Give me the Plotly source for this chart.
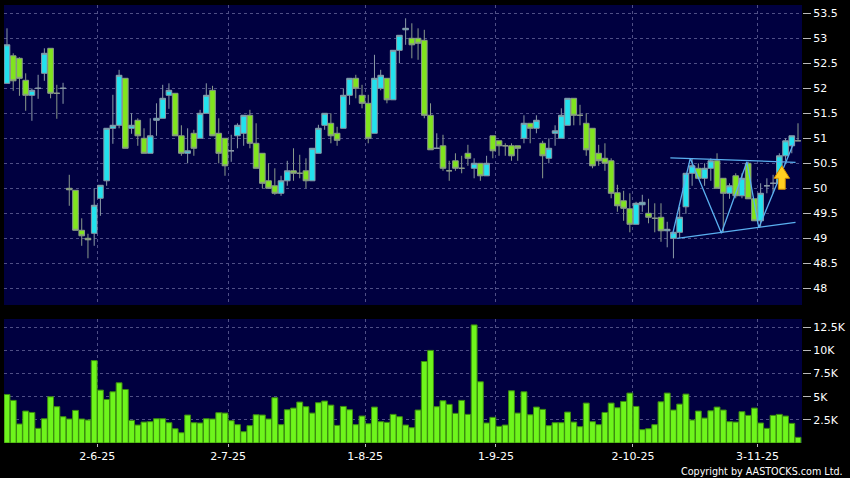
import plotly.graph_objects as go

# ---------------- data ----------------
idx = list(range(128))

open_ = [52.10, 52.65, 52.60, 52.16, 51.86, 52.00, 52.30, 52.80, 51.90, 52.00,
         50.00, 49.96, 49.16, 49.00, 49.10, 49.80, 50.15, 51.20, 51.26, 52.20,
         51.20, 51.36, 51.00, 50.70, 51.36, 51.40, 51.86, 51.90, 51.05, 50.70,
         51.10, 51.00, 51.50, 51.96, 51.10, 51.00, 50.75, 51.05, 51.10, 51.46,
         50.90, 50.70, 50.15, 50.05, 49.90, 50.15, 50.35, 50.30, 50.35, 50.15,
         50.70, 51.26, 51.30, 51.10, 51.20, 51.86, 52.20, 51.86, 51.70, 51.10,
         52.00, 52.20, 51.77, 52.76, 53.17, 53.00, 53.00, 52.96, 51.46, 50.80,
         50.85, 50.35, 50.55, 50.40, 50.70, 50.40, 50.50, 50.25, 51.05, 50.95,
         50.85, 50.85, 50.85, 51.00, 51.30, 51.20, 50.90, 50.60, 51.10, 51.00,
         51.26, 51.80, 51.46, 51.30, 51.20, 50.70, 50.60, 50.55, 49.91, 49.75,
         49.59, 49.28, 49.67, 49.50, 49.40, 49.42, 49.15, 49.00, 49.12, 49.63,
         50.30, 50.40, 50.20, 50.40, 50.55, 50.20, 49.90, 50.25, 49.85, 50.50,
         49.79, 49.35, 50.05, 50.10, 50.10, 50.65, 50.85, 50.95]

high = [53.20, 52.70, 52.62, 52.30, 52.00, 52.27, 52.80, 52.80, 52.07, 52.11,
        50.27, 49.96, 49.40, 49.09, 50.00, 50.06, 51.20, 51.87, 52.37, 52.20,
        51.50, 51.40, 51.20, 51.40, 51.70, 52.07, 52.10, 51.90, 51.26, 51.20,
        51.17, 51.57, 52.10, 52.05, 51.40, 51.00, 51.07, 51.30, 51.46, 51.57,
        51.30, 50.70, 50.50, 50.40, 50.25, 50.55, 50.80, 50.67, 50.60, 50.80,
        51.27, 51.50, 51.50, 51.23, 52.00, 52.20, 52.27, 52.07, 51.87, 52.67,
        52.37, 52.20, 52.76, 53.06, 53.40, 53.30, 53.20, 53.17, 51.70, 51.10,
        51.07, 50.55, 50.70, 50.65, 50.87, 50.60, 50.50, 50.65, 51.05, 50.95,
        50.90, 50.90, 50.85, 51.46, 51.30, 51.46, 50.95, 51.00, 51.26, 51.60,
        51.80, 51.80, 51.67, 51.50, 51.20, 50.87, 50.90, 50.60, 50.07, 49.95,
        49.90, 49.73, 49.87, 49.79, 49.70, 49.70, 49.33, 49.12, 49.63, 50.30,
        50.60, 50.50, 50.50, 50.60, 50.70, 50.20, 50.10, 50.30, 50.30, 50.53,
        49.79, 50.10, 50.20, 50.27, 50.70, 51.00, 51.05, 51.30]

low = [52.10, 51.95, 51.85, 51.55, 51.35, 51.79, 52.15, 51.80, 51.39, 51.69,
       49.65, 49.16, 48.85, 48.60, 48.85, 49.45, 50.05, 50.89, 51.20, 50.80,
       51.09, 50.85, 50.70, 50.70, 51.05, 51.40, 51.59, 51.05, 50.65, 50.50,
       50.65, 51.00, 51.50, 51.05, 50.50, 50.25, 50.53, 50.80, 50.85, 50.80,
       50.40, 50.00, 50.00, 49.87, 49.85, 50.05, 50.15, 50.20, 50.00, 50.15,
       50.70, 51.17, 50.90, 50.85, 51.20, 51.67, 51.80, 51.60, 50.90, 51.10,
       51.96, 51.70, 51.77, 52.50, 52.87, 52.60, 52.57, 51.40, 50.77, 50.80,
       50.35, 50.15, 50.35, 50.30, 50.45, 50.20, 50.15, 50.25, 50.60, 50.65,
       50.65, 50.55, 50.55, 50.90, 50.90, 51.10, 50.20, 50.50, 50.85, 51.00,
       51.26, 51.26, 51.26, 50.65, 50.40, 50.45, 50.35, 49.80, 49.53, 49.35,
       49.12, 49.28, 49.53, 49.30, 49.12, 48.93, 48.82, 48.60, 49.00, 49.49,
       50.05, 50.20, 50.05, 50.15, 50.00, 49.12, 49.79, 49.80, 49.80, 49.79,
       49.35, 49.23, 49.90, 49.90, 50.10, 50.55, 50.70, 50.95]

close = [52.87, 52.15, 52.20, 51.86, 51.96, 52.00, 52.70, 51.90, 51.90, 52.00,
         49.97, 49.16, 49.05, 48.97, 49.66, 50.06, 51.20, 51.26, 52.26, 50.80,
         51.26, 51.05, 50.70, 51.05, 51.40, 51.80, 51.96, 51.05, 50.70, 50.75,
         50.80, 51.50, 51.86, 51.05, 50.70, 50.45, 50.75, 51.26, 51.46, 50.90,
         50.40, 50.10, 50.00, 49.90, 50.15, 50.35, 50.30, 50.30, 50.15, 50.80,
         51.20, 51.50, 51.05, 50.96, 51.86, 52.20, 52.00, 51.70, 51.00, 52.20,
         52.26, 51.77, 52.76, 53.06, 53.20, 52.87, 52.90, 51.46, 50.77, 50.80,
         50.40, 50.35, 50.40, 50.40, 50.60, 50.50, 50.25, 50.50, 50.75, 50.85,
         50.85, 50.65, 50.80, 51.30, 51.20, 51.36, 50.65, 50.80, 51.15, 51.46,
         51.80, 51.46, 51.46, 50.77, 50.45, 50.55, 50.50, 49.90, 49.65, 49.60,
         49.28, 49.70, 49.72, 49.42, 49.40, 49.15, 49.18, 49.12, 49.42, 50.30,
         50.45, 50.20, 50.40, 50.55, 50.00, 49.90, 50.05, 49.85, 50.20, 49.79,
         49.35, 49.90, 50.05, 50.10, 50.65, 50.95, 51.05, 50.95]

vol_k = [5.24, 4.60, 2.05, 3.45, 3.30, 1.58, 2.62, 4.99, 3.92, 2.84,
         2.59, 3.52, 2.59, 2.48, 8.90, 5.71, 4.70, 5.53, 6.50, 5.78,
         2.44, 1.94, 2.26, 2.30, 2.62, 2.62, 2.19, 1.54, 1.11, 3.02,
         2.19, 2.16, 2.62, 2.59, 3.27, 3.23, 2.41, 1.98, 1.22, 1.87,
         3.05, 3.02, 2.59, 4.89, 1.98, 3.59, 3.77, 4.42, 3.92, 3.23,
         4.35, 4.53, 4.09, 1.90, 3.95, 3.59, 1.98, 2.91, 2.08, 3.88,
         2.30, 2.23, 3.09, 2.84, 1.94, 1.65, 3.56, 8.80, 10.00, 3.92,
         4.56, 4.17, 3.20, 4.60, 3.09, 12.75, 6.61, 2.16, 2.77, 1.80,
         1.94, 5.64, 3.23, 5.53, 3.05, 3.88, 3.63, 1.87, 2.19, 2.19,
         3.34, 2.26, 1.76, 4.31, 2.30, 1.98, 3.30, 4.31, 3.81, 4.49,
         5.39, 3.95, 1.44, 1.54, 1.98, 4.45, 5.39, 3.56, 4.20, 5.28,
         2.48, 3.45, 2.69, 3.48, 3.88, 3.56, 2.30, 2.26, 3.38, 2.98,
         3.77, 2.16, 1.58, 2.98, 3.09, 2.91, 2.12, 0.61]
volume = [v * 1000 for v in vol_k]

month_pos = [14.5, 35.5, 57.5, 78.5, 100.5, 120.5]
month_labels = ["2-6-25", "2-7-25", "1-8-25", "1-9-25", "2-10-25", "3-11-25"]

price_ticks = [48, 48.5, 49, 49.5, 50, 50.5, 51, 51.5, 52, 52.5, 53, 53.5]
price_labels = ["48", "48.5", "49", "49.5", "50", "50.5", "51", "51.5", "52", "52.5", "53", "53.5"]
vol_ticks = [2500, 5000, 7500, 10000, 12500]
vol_labels = ["2.5K", "5K", "7.5K", "10K", "12.5K"]

# pattern annotation (triangle / zigzag) in index / price units
upper_x, upper_y = [106.5, 126.6], [50.61, 50.52]
lower_x, lower_y = [107.6, 126.6], [49.00, 49.32]
zig_x = [106.8, 109.7, 114.7, 118.8, 120.7, 126.3]
zig_y = [49.05, 50.60, 49.10, 50.53, 49.21, 50.90]

# breakout arrow (index / price units)
arrow_x, arrow_tip, arrow_head_base, arrow_bottom = 124.4, 50.45, 50.20, 49.98
arrow_head_half, arrow_shaft_half = 1.25, 0.55

# ---------------- figure ----------------
GRID = "#4f4f86"
fig = go.Figure()

fig.add_trace(go.Candlestick(
    x=idx, open=open_, high=high, low=low, close=close,
    increasing=dict(fillcolor="#22E2EE", line=dict(color="#8a9aa6", width=1)),
    decreasing=dict(fillcolor="#80E41E", line=dict(color="#8a9a8a", width=1)),
    whiskerwidth=0, showlegend=False, hoverinfo="skip",
    xaxis="x", yaxis="y"))

line_style = dict(color="#5AB0F0", width=1.3)
for xs, ys in [(upper_x, upper_y), (lower_x, lower_y), (zig_x, zig_y)]:
    fig.add_trace(go.Scatter(x=xs, y=ys, mode="lines", line=line_style,
                             showlegend=False, hoverinfo="skip", xaxis="x", yaxis="y"))

fig.add_trace(go.Bar(
    x=idx, y=volume,
    marker=dict(color="#6EF51C", line=dict(color="#3C8C10", width=1)),
    showlegend=False, hoverinfo="skip", xaxis="x2", yaxis="y2"))

ax, ah, sh = arrow_x, arrow_head_half, arrow_shaft_half
path = (f"M {ax},{arrow_tip} L {ax+ah},{arrow_head_base} L {ax+sh},{arrow_head_base} "
        f"L {ax+sh},{arrow_bottom} L {ax-sh},{arrow_bottom} L {ax-sh},{arrow_head_base} "
        f"L {ax-ah},{arrow_head_base} Z")
fig.add_shape(type="path", path=path, xref="x", yref="y",
              fillcolor="#FFCF20", line=dict(color="#D08A00", width=1))

font = dict(family="DejaVu Sans", size=11, color="#FFFFFF")

fig.update_layout(
    width=850, height=478,
    margin=dict(l=4, r=43, t=5, b=35),
    paper_bgcolor="#000000", plot_bgcolor="#000040",
    bargap=0.06, boxgap=0.06, boxgroupgap=0.04,
    font=font,
    xaxis=dict(domain=[0, 1], anchor="y", range=[-0.48, 127.64],
               tickvals=month_pos, showticklabels=False, ticks="",
               showgrid=True, gridcolor=GRID, griddash="3px,3px", gridwidth=1,
               zeroline=False, showline=False, rangeslider=dict(visible=False)),
    yaxis=dict(domain=[0.3151, 1], anchor="x", side="right", range=[47.666, 53.666],
               tickvals=price_ticks, ticktext=price_labels,
               ticks="outside", ticklen=8, tickcolor="#bbbbbb",
               showgrid=True, gridcolor=GRID, griddash="3px,3px", gridwidth=1,
               zeroline=False, showline=False, tickfont=font),
    xaxis2=dict(domain=[0, 1], anchor="y2", matches="x", range=[-0.48, 127.64],
                tickvals=month_pos, ticktext=month_labels,
                ticks="outside", ticklen=3, tickcolor="#bbbbbb",
                showgrid=True, gridcolor=GRID, griddash="3px,3px", gridwidth=1,
                zeroline=False, showline=False, tickfont=font),
    yaxis2=dict(domain=[0, 0.2831], anchor="x2", side="right", range=[0, 13390],
                tickvals=vol_ticks, ticktext=vol_labels,
                ticks="outside", ticklen=8, tickcolor="#bbbbbb",
                showgrid=True, gridcolor=GRID, griddash="3px,3px", gridwidth=1,
                zeroline=False, showline=False, tickfont=font),
    annotations=[dict(text="Copyright by AASTOCKS.com Ltd.", xref="paper", yref="paper",
                      x=(850 - 4) / 803, y=(443 - 471) / 438, xanchor="right", yanchor="middle",
                      showarrow=False, font=dict(family="DejaVu Sans", size=9.6, color="#FFFFFF"))],
)

fig.write_html("out.html", config={"displayModeBar": False},
               post_script="document.body.style.margin='0';document.body.style.background='#000';")
